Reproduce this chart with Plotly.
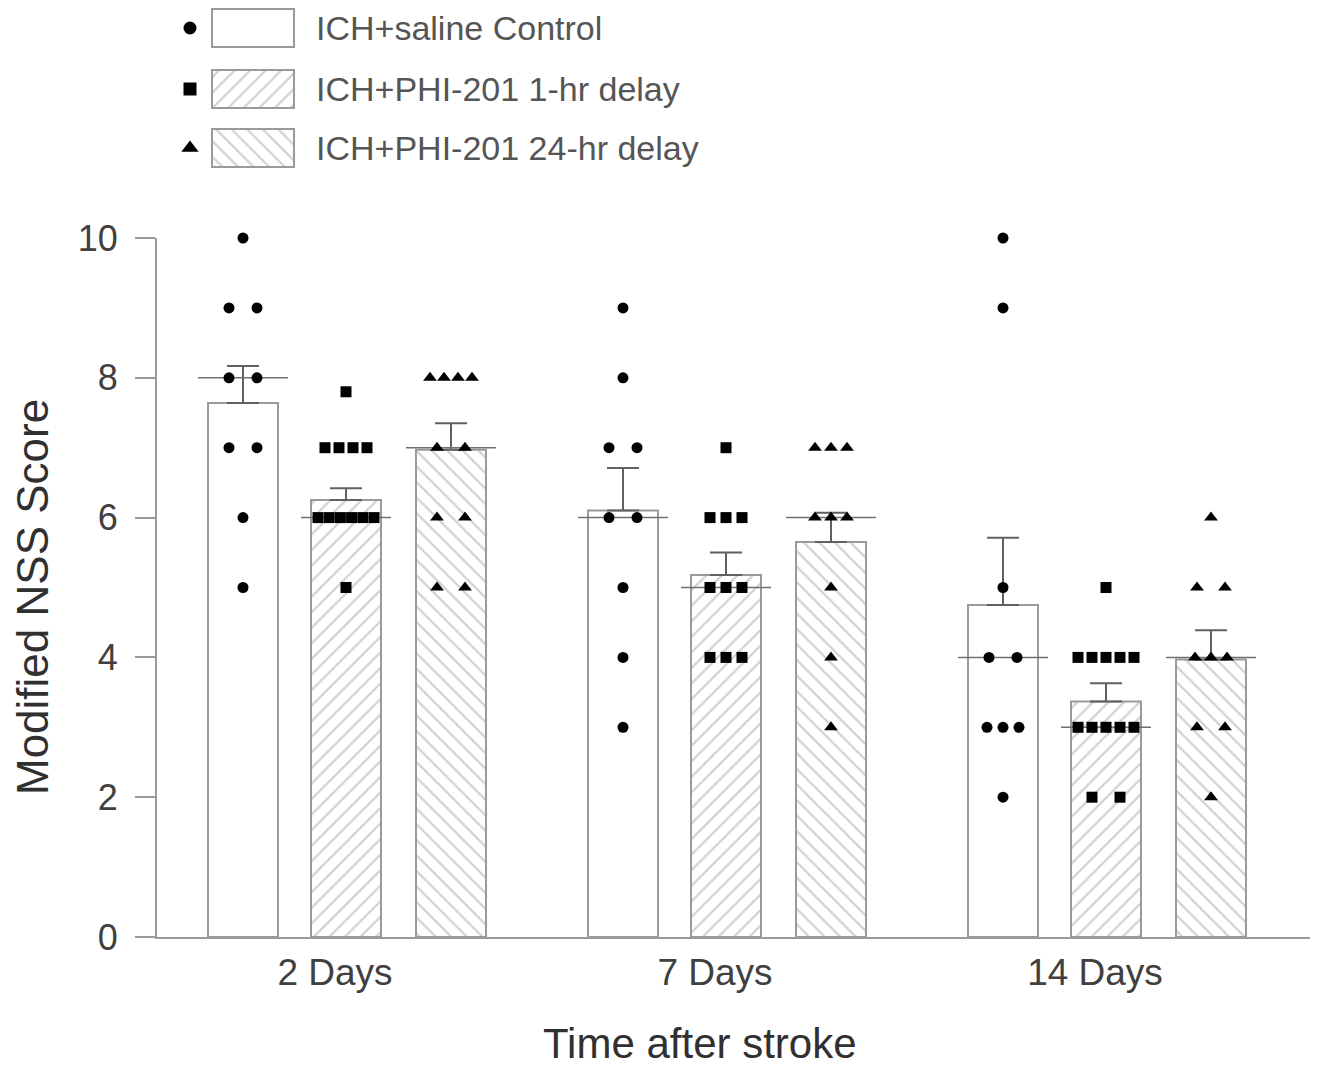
import numpy as np
import plotly.graph_objects as go

# ---------------- data ----------------
days = ["2 Days", "7 Days", "14 Days"]
series_names = ["ICH+saline Control", "ICH+PHI-201 1-hr delay", "ICH+PHI-201 24-hr delay"]

control_mean = [7.64, 6.10, 4.75]
control_sem = [0.53, 0.61, 0.96]
hr1_mean = [6.25, 5.18, 3.37]
hr1_sem = [0.17, 0.32, 0.26]
hr24_mean = [6.97, 5.65, 3.97]
hr24_sem = [0.38, 0.42, 0.42]

control_pts_2d = [10, 9, 9, 8, 8, 7, 7, 6, 5]
control_pts_7d = [9, 8, 7, 7, 6, 6, 5, 4, 3]
control_pts_14d = [10, 9, 5, 4, 4, 3, 3, 3, 2]
hr1_pts_2d = [7.8, 7, 7, 7, 7, 6, 6, 6, 6, 6, 6, 5]
hr1_pts_7d = [7, 6, 6, 6, 5, 5, 5, 4, 4, 4]
hr1_pts_14d = [5, 4, 4, 4, 4, 4, 3, 3, 3, 3, 3, 2, 2]
hr24_pts_2d = [8, 8, 8, 8, 7, 7, 6, 6, 5, 5]
hr24_pts_7d = [7, 7, 7, 6, 6, 6, 5, 4, 3]
hr24_pts_14d = [6, 5, 5, 4, 4, 4, 3, 3, 2]

y_ticks = [0, 2, 4, 6, 8, 10]

# ---------------- styling / layout ----------------
FONT = "Liberation Sans, Arial, sans-serif"
PX = 380.0                     # pixels per x unit (group spacing)
offsets = [-103 / PX, 0.0, 105 / PX]
bar_w = 70 / PX
med_half = 45 / PX
label_shift = -11 / PX
patterns = ["", "/", "\\"]
symbols = ["circle", "square", "triangle-up"]
edge = "#9a9a9a"

means = [control_mean, hr1_mean, hr24_mean]
sems = [control_sem, hr1_sem, hr24_sem]
points = [
    [control_pts_2d, control_pts_7d, control_pts_14d],
    [hr1_pts_2d, hr1_pts_7d, hr1_pts_14d],
    [hr24_pts_2d, hr24_pts_7d, hr24_pts_14d],
]


def spread(vals, center):
    """Place equal values side by side, centred on the bar."""
    xs, ys = [], []
    vals = list(vals)
    for v in sorted(set(vals), reverse=True):
        n = vals.count(v)
        if n == 1:
            sp = 0
        elif n == 2:
            sp = 28
        elif n == 3:
            sp = 16
        else:
            sp = min(14, 56 / (n - 1))
        for i in range(n):
            xs.append(center + (i - (n - 1) / 2) * sp / PX)
            ys.append(v)
    return xs, ys


fig = go.Figure()

for s in range(3):
    xc = [g + offsets[s] for g in range(3)]
    fig.add_trace(go.Bar(
        x=xc, y=means[s], width=bar_w,
        marker=dict(color="white", line=dict(color=edge, width=2),
                    pattern=dict(shape=patterns[s], fgcolor="#a0a0a0", bgcolor="white",
                                 size=11, solidity=0.2)),
        error_y=dict(type="data", symmetric=False, array=sems[s], arrayminus=[0, 0, 0],
                     color="#606060", thickness=2, width=16),
        showlegend=False, hoverinfo="skip",
    ))

for s in range(3):
    for g in range(3):
        c = g + offsets[s]
        med = float(np.median(points[s][g]))
        fig.add_trace(go.Scatter(
            x=[c - med_half, c + med_half], y=[med, med], mode="lines",
            line=dict(color="#707070", width=1.5), showlegend=False, hoverinfo="skip",
        ))

for s in range(3):
    allx, ally = [], []
    for g in range(3):
        xs, ys = spread(points[s][g], g + offsets[s])
        allx += xs
        ally += ys
    fig.add_trace(go.Scatter(
        x=allx, y=ally, mode="markers", cliponaxis=False,
        marker=dict(symbol=symbols[s], color="black", size=11 if s != 2 else 12),
        showlegend=False, hoverinfo="skip",
    ))

# ---------------- custom legend (second axes in reference-pixel units) ----------------
leg_rows = [28, 89, 148]
fig.add_trace(go.Bar(
    x=[82, 82, 82], y=leg_rows, base=[212, 212, 212], orientation="h", width=38,
    marker=dict(color="white", line=dict(color=edge, width=2),
                pattern=dict(shape=patterns, fgcolor="#a0a0a0", bgcolor="white",
                             size=11, solidity=0.2)),
    xaxis="x2", yaxis="y2", showlegend=False, hoverinfo="skip",
))
for s in range(3):
    fig.add_trace(go.Scatter(
        x=[190], y=[leg_rows[s]], mode="markers",
        marker=dict(symbol=symbols[s], color="black", size=13 if s != 2 else 15),
        xaxis="x2", yaxis="y2", showlegend=False, hoverinfo="skip", cliponaxis=False,
    ))
    fig.add_annotation(x=314, y=leg_rows[s], xref="x2", yref="y2", text=series_names[s],
                       showarrow=False, xanchor="left", yanchor="middle",
                       font=dict(family=FONT, size=34, color="#555555"))

# page body has an 8px margin: figure coordinates = reference pixels - 8
OFF = 8
W, H = 1329 - OFF, 1072 - OFF
AX_L, AX_R, AX_B, AX_T = 157, 1310, 937, 238   # reference pixel positions
L = AX_L - OFF
R = W - (AX_R - OFF)
T = 0
B = H - (AX_B - OFF)
plot_h = H - T - B
plot_w = W - L - R
main_top = (AX_B - AX_T) / plot_h

fig.update_layout(
    width=W, height=H,
    margin=dict(l=L, r=R, t=T, b=B, autoexpand=False),
    paper_bgcolor="white", plot_bgcolor="white",
    barmode="overlay",
    font=dict(family=FONT, color="#404040"),
    xaxis=dict(range=[-(346 - AX_L) / PX, 2 + (AX_R - 1106) / PX],
               tickvals=[g + label_shift for g in range(3)], ticktext=days,
               showgrid=False, zeroline=False, showline=True, linecolor=edge, linewidth=2,
               ticks="", ticklabelstandoff=2, tickfont=dict(size=37, color="#404040"),
               domain=[0, 1], automargin=False),
    yaxis=dict(range=[0, 10], tickvals=y_ticks, domain=[0, main_top],
               showgrid=False, zeroline=False, showline=True, linecolor=edge, linewidth=2,
               ticks="outside", ticklen=20, tickwidth=2, tickcolor=edge, ticklabelstandoff=10,
               tickfont=dict(size=36, color="#404040"), automargin=False),
    xaxis2=dict(range=[AX_L, AX_R], domain=[0, 1], anchor="y2", visible=False),
    yaxis2=dict(range=[175, OFF], domain=[(AX_B - 175) / plot_h, 1], anchor="x2", visible=False),
)

fig.add_annotation(x=(700 - AX_L) / plot_w, y=(AX_B - 1069) / plot_h, xref="paper", yref="paper",
                   text="Time after stroke", showarrow=False, xanchor="center", yanchor="bottom",
                   font=dict(family=FONT, size=42, color="#303030"))
fig.add_annotation(x=(32 - AX_L) / plot_w, y=(AX_B - 597) / plot_h, xref="paper", yref="paper",
                   text="Modified NSS Score", showarrow=False, textangle=-90,
                   xanchor="center", yanchor="middle",
                   font=dict(family=FONT, size=44, color="#303030"))

fig.write_html("out.html")
